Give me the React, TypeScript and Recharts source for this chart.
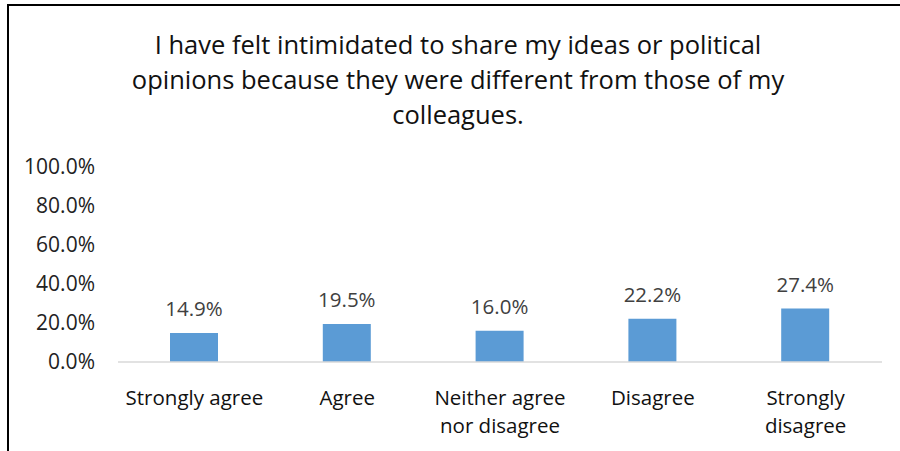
import { BarChart, Bar, XAxis, YAxis, LabelList } from 'recharts'

const titleLines = [
  'I have felt intimidated to share my ideas or political',
  'opinions because they were different from those of my',
  'colleagues.',
]
const categories = ['Strongly agree', 'Agree', 'Neither agree nor disagree', 'Disagree', 'Strongly disagree']
const shares = [0.149, 0.195, 0.16, 0.222, 0.274]
const yTicks = [0, 0.2, 0.4, 0.6, 0.8, 1]

const data = categories.map((name, i) => ({ name, value: shares[i] }))

const FONT = '"Open Sans", sans-serif'
const pct = (v: number) => `${(v * 100).toFixed(1)}%`

// greedy word wrap, roughly how Excel breaks the category names
function wrap(label: string, max = 14) {
  const lines: string[] = []
  let cur = ''
  for (const w of label.split(' ')) {
    const next = cur ? cur + ' ' + w : w
    if (next.length > max && cur) {
      lines.push(cur)
      cur = w
    } else cur = next
  }
  if (cur) lines.push(cur)
  return lines
}

const CategoryTick = (props: any) => {
  const { x, y, payload } = props
  return (
    <text x={x} y={y} textAnchor="middle" fontFamily={FONT} fontSize={20.5} fill="#111">
      {wrap(payload.value).map((line, i) => (
        <tspan key={i} x={x} dy={i === 0 ? 35 : 28}>
          {line}
        </tspan>
      ))}
    </text>
  )
}

const ValueLabel = (props: any) => {
  const { x, y, width, value } = props
  return (
    <text x={x + width / 2} y={y - 17} textAnchor="middle" fontFamily={FONT} fontSize={20.5} fill="#404040">
      {pct(value)}
    </text>
  )
}

export default function App() {
  return (
    <div style={{ position: 'absolute', left: 0, top: 0, width: 900, height: 451, overflow: 'hidden', background: '#fff' }}>
      <div
        style={{
          position: 'absolute',
          left: 7,
          top: 4,
          width: 920,
          height: 480,
          border: '2px solid #000',
          boxSizing: 'border-box',
        }}
      />
      <div
        style={{
          position: 'absolute',
          left: 58,
          top: 27,
          width: 800,
          textAlign: 'center',
          fontFamily: FONT,
          fontSize: 25.5,
          lineHeight: '35px',
          color: '#111',
        }}
      >
        {titleLines.map((l, i) => (
          <div key={i}>{l}</div>
        ))}
      </div>
      <div style={{ position: 'absolute', left: 0, top: 0 }}>
        <BarChart width={900} height={451} data={data} margin={{ top: 167, right: 18, bottom: 29, left: 8 }}>
          <XAxis
            dataKey="name"
            axisLine={{ stroke: '#d9d9d9', strokeWidth: 1.5 }}
            tickLine={false}
            interval={0}
            height={60}
            tick={<CategoryTick />}
          />
          <YAxis
            width={110}
            domain={[0, 1]}
            ticks={yTicks}
            axisLine={false}
            tickLine={false}
            tickMargin={17}
            tickFormatter={pct}
            tick={{ fontFamily: FONT, fontSize: 21, fill: '#222' }}
          />
          <Bar dataKey="value" fill="#5b9bd5" barSize={48} isAnimationActive={false}>
            <LabelList dataKey="value" content={<ValueLabel />} />
          </Bar>
        </BarChart>
      </div>
    </div>
  )
}
